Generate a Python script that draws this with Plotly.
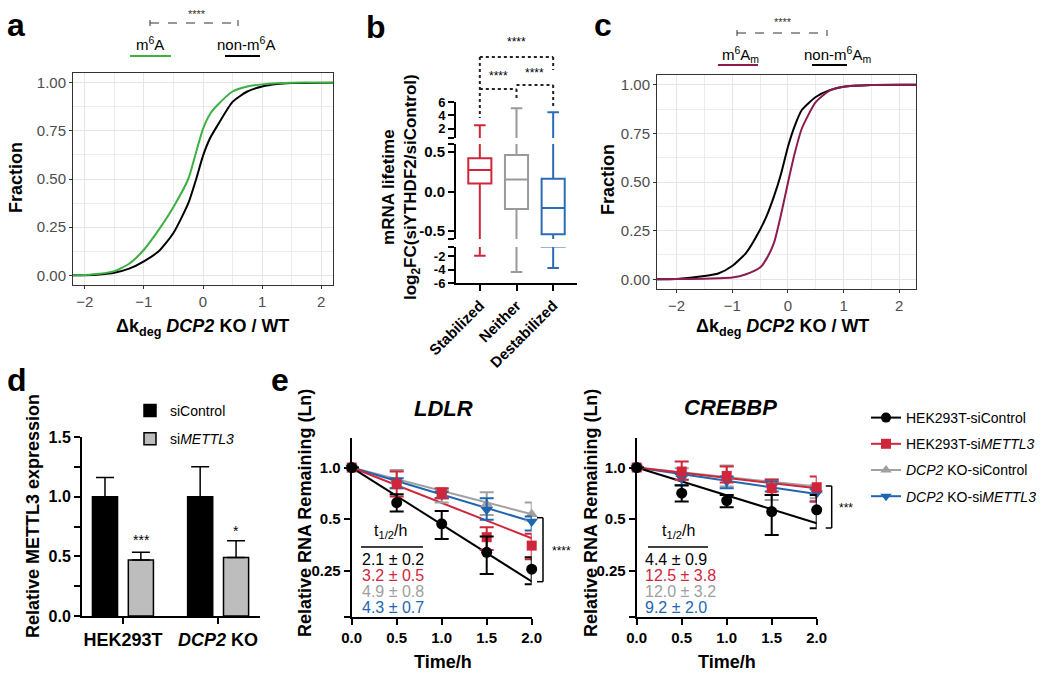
import plotly.graph_objects as go

W, H = 1050, 678
FONT = "Liberation Sans"

# ---------------- data ----------------
# Panel a : cumulative fraction vs delta k_deg
a_dk = [-2.2, -2.0, -1.75, -1.5, -1.25, -1.0, -0.75, -0.5, -0.25, -0.125, 0.0, 0.125, 0.25, 0.5, 0.75, 1.0, 1.25, 1.5, 2.2]
a_m6a_frac = [0, 0.002, 0.008, 0.022, 0.06, 0.133, 0.236, 0.355, 0.50, 0.63, 0.76, 0.84, 0.885, 0.954, 0.98, 0.991, 0.997, 1.0, 1.0]
a_non_frac = [0, 0.001, 0.005, 0.014, 0.035, 0.073, 0.125, 0.22, 0.373, 0.49, 0.62, 0.715, 0.78, 0.90, 0.954, 0.98, 0.993, 0.998, 1.0]

# Panel c
c_dk = [-2.35, -2.0, -1.5, -1.25, -1.0, -0.75, -0.5, -0.375, -0.25, -0.125, 0.0, 0.125, 0.25, 0.5, 0.75, 1.0, 1.5, 2.3]
c_m6am_frac = [0, 0.001, 0.003, 0.005, 0.009, 0.026, 0.06, 0.11, 0.187, 0.33, 0.495, 0.65, 0.775, 0.91, 0.97, 0.99, 0.999, 1.0]
c_non_frac = [0, 0.002, 0.017, 0.03, 0.068, 0.136, 0.255, 0.33, 0.426, 0.54, 0.68, 0.79, 0.87, 0.937, 0.972, 0.99, 0.999, 1.0]

# Panel b : box statistics
b_cats = ["Stabilized", "Neither", "Destabilized"]
b_q1 = [0.10, -0.22, -0.54]
b_median = [0.27, 0.15, -0.21]
b_q3 = [0.42, 0.46, 0.16]
b_low = [-1.9, -4.35, -3.75]
b_high = [2.5, 5.05, 4.45]
b_colors = ["#d0263b", "#9a9a9a", "#2b6cb5"]

# Panel d : relative METTL3 expression
d_groups = ["HEK293T", "DCP2 KO"]
d_group_labels = ["HEK293T", "<i>DCP2</i> KO"]
d_sicontrol = [1.0, 1.0]
d_sicontrol_err = [0.16, 0.25]
d_simettl3 = [0.47, 0.49]
d_simettl3_err = [0.065, 0.14]

# Panel e : RNA decay
e_time = [0, 0.5, 1.0, 1.5, 2.0]
e_fit_time = [0, 2.0]
e_names = ["HEK293T-siControl", "HEK293T-si<i>METTL3</i>",
           "<i>DCP2</i> KO-siControl", "<i>DCP2</i> KO-si<i>METTL3</i>"]
e_colors = ["#000000", "#d0263b", "#a0a0a0", "#1f66b0"]
e_symbols = ["circle", "square", "triangle-up", "triangle-down"]

ldlr_mean = [
    [1, 0.625, 0.470, 0.321, 0.256],
    [1, 0.803, 0.715, 0.393, 0.351],
    [1, 0.836, 0.693, 0.611, 0.535],
    [1, 0.810, 0.693, 0.567, 0.485],
]
ldlr_upper = [
    [1, 0.699, 0.559, 0.396, 0.300],
    [1, 0.948, 0.758, 0.449, 0.411],
    [1, 0.969, 0.748, 0.718, 0.625],
    [1, 0.867, 0.725, 0.663, 0.518],
]
ldlr_lower = [
    [1, 0.554, 0.384, 0.240, 0.209],
    [1, 0.678, 0.663, 0.331, 0.292],
    [1, 0.758, 0.625, 0.530, 0.491],
    [1, 0.758, 0.663, 0.496, 0.430],
]
ldlr_fit_end = [0.217, 0.387, 0.535, 0.485]
ldlr_halflife = ["2.1 ± 0.2", "3.2 ± 0.5", "4.9 ± 0.8", "4.3 ± 0.7"]

crebbp_mean = [
    [1, 0.709, 0.642, 0.554, 0.567],
    [1, 0.948, 0.894, 0.758, 0.768],
    [1, 0.918, 0.886, 0.810, 0.734],
    [1, 0.867, 0.829, 0.775, 0.709],
]
crebbp_upper = [
    [1, 0.785, 0.693, 0.693, 0.693],
    [1, 1.084, 1.013, 0.848, 0.886],
    [1, 0.991, 1.027, 0.855, 0.790],
    [1, 0.918, 0.886, 0.829, 0.748],
]
crebbp_lower = [
    [1, 0.634, 0.587, 0.405, 0.443],
    [1, 0.848, 0.818, 0.693, 0.634],
    [1, 0.848, 0.775, 0.648, 0.663],
    [1, 0.792, 0.758, 0.725, 0.634],
]
crebbp_fit_end = [0.474, 0.758, 0.775, 0.702]
crebbp_halflife = ["4.4 ± 0.9", "12.5 ± 3.8", "12.0 ± 3.2", "9.2 ± 2.0"]


# ---------------- helpers ----------------
def px(x):
    return x / W


def py(y):
    return 1 - y / H


annotations = []
shapes = []


def T(text, x, y, size, color="black", xanchor="center", yanchor="middle", angle=0, bold=False,
      xref="paper"):
    if bold:
        text = f"<b>{text}</b>"
    annotations.append(dict(text=text, x=(px(x) if xref == "paper" else x), y=py(y), xref=xref, yref="paper",
                            showarrow=False, font=dict(family=FONT, size=size, color=color),
                            xanchor=xanchor, yanchor=yanchor, textangle=angle))


def L(x0, y0, x1, y1, color="black", width=1.0, dash="solid", xref="paper"):
    shapes.append(dict(type="line", xref=xref, yref="paper",
                       x0=(px(x0) if xref == "paper" else x0), x1=(px(x1) if xref == "paper" else x1),
                       y0=py(y0), y1=py(y1), line=dict(color=color, width=width, dash=dash)))


fig = go.Figure()

# ---------------- panel a & c (ggplot style) ----------------
curve = dict(mode="lines", showlegend=False, hoverinfo="skip")
fig.add_trace(go.Scatter(x=a_dk, y=a_non_frac, line=dict(color="black", width=2, shape="spline", smoothing=0.6),
                         xaxis="x", yaxis="y", **curve))
fig.add_trace(go.Scatter(x=a_dk, y=a_m6a_frac, line=dict(color="#3cb043", width=2, shape="spline", smoothing=0.6),
                         xaxis="x", yaxis="y", **curve))
fig.add_trace(go.Scatter(x=c_dk, y=c_non_frac, line=dict(color="black", width=2, shape="spline", smoothing=0.6),
                         xaxis="x3", yaxis="y5", **curve))
fig.add_trace(go.Scatter(x=c_dk, y=c_m6am_frac, line=dict(color="#8e1b50", width=2, shape="spline", smoothing=0.6),
                         xaxis="x3", yaxis="y5", **curve))

# ---------------- panel b (broken axis box plot) ----------------
for yax in ["y2", "y3", "y4"]:
    for i, cat in enumerate(b_cats):
        fig.add_trace(go.Box(x=[cat], q1=[b_q1[i]], median=[b_median[i]], q3=[b_q3[i]],
                             lowerfence=[b_low[i]], upperfence=[b_high[i]],
                             width=0.63, whiskerwidth=0.5, fillcolor="white",
                             line=dict(color=b_colors[i], width=2), boxpoints=False,
                             xaxis="x2", yaxis=yax, showlegend=False, hoverinfo="skip"))

# ---------------- panel d (bars) ----------------
fig.add_trace(go.Bar(x=d_groups, y=d_sicontrol, name="siControl", marker=dict(color="black", line=dict(color="black", width=1.5)),
                     error_y=dict(type="data", array=d_sicontrol_err, arrayminus=[0, 0], symmetric=False,
                                  color="black", thickness=1.5, width=9),
                     xaxis="x4", yaxis="y6", legend="legend2", legendgroup="ctl", hoverinfo="skip"))
fig.add_trace(go.Bar(x=d_groups, y=d_simettl3, name="si<i>METTL3</i>", marker=dict(color="#bdbdbd", line=dict(color="black", width=1.5)),
                     error_y=dict(type="data", array=d_simettl3_err, arrayminus=[0, 0], symmetric=False,
                                  color="black", thickness=1.5, width=9),
                     xaxis="x4", yaxis="y6", legend="legend2", legendgroup="kd", hoverinfo="skip"))

# ---------------- panel e (decay curves) ----------------
for xa, ya, mean, up, lo, fit in [("x5", "y7", ldlr_mean, ldlr_upper, ldlr_lower, ldlr_fit_end),
                                  ("x6", "y8", crebbp_mean, crebbp_upper, crebbp_lower, crebbp_fit_end)]:
    order = [2, 3, 1, 0]
    for s in order:
        fig.add_trace(go.Scatter(x=e_fit_time, y=[mean[s][0], fit[s]], mode="lines",
                                 line=dict(color=e_colors[s], width=2), xaxis=xa, yaxis=ya,
                                 showlegend=False, hoverinfo="skip", cliponaxis=False))
    for s in order:
        plus = [u - m for u, m in zip(up[s], mean[s])]
        minus = [m - l for m, l in zip(mean[s], lo[s])]
        fig.add_trace(go.Scatter(x=e_time, y=mean[s], mode="markers",
                                 marker=dict(symbol=e_symbols[s], color=e_colors[s], size=11 if s != 1 else 10),
                                 error_y=dict(type="data", array=plus, arrayminus=minus, symmetric=False,
                                              color=e_colors[s], thickness=2, width=7),
                                 xaxis=xa, yaxis=ya, showlegend=False, hoverinfo="skip", cliponaxis=False))

# legend entries for panel e
for s in range(4):
    fig.add_trace(go.Scatter(x=[None], y=[None], mode="lines+markers", name=e_names[s],
                             marker=dict(symbol=e_symbols[s], color=e_colors[s], size=10),
                             line=dict(color=e_colors[s], width=2), legendgroup=f"e{s}",
                             xaxis="x5", yaxis="y7", showlegend=True))

# ---------------- axes ----------------
gg_common = dict(showline=True, mirror=True, linecolor="#333333", linewidth=1, zeroline=False,
                 showgrid=True, gridcolor="#e5e5e5", gridwidth=1.3,
                 ticks="outside", ticklen=3, tickcolor="#333333", tickwidth=1, automargin=False,
                 tickfont=dict(family=FONT, size=15, color="#4d4d4d"))


def ggx(domain, anchor, rng):
    d = dict(gg_common)
    d.update(domain=domain, anchor=anchor, range=rng, tickmode="linear", tick0=0, dtick=1,
             minor=dict(dtick=0.5, tick0=0, showgrid=True, gridcolor="#ececec", gridwidth=1, ticks=""))
    return d


def ggy(domain, anchor, rng):
    d = dict(gg_common)
    d.update(domain=domain, anchor=anchor, range=rng, tickmode="linear", tick0=0, dtick=0.25, tickformat=".2f",
             minor=dict(dtick=0.125, tick0=0, showgrid=True, gridcolor="#ececec", gridwidth=1, ticks=""))
    return d


prism = dict(showline=True, linecolor="black", linewidth=2, zeroline=False, showgrid=False, automargin=False,
             ticks="outside", ticklen=6, tickwidth=2, tickcolor="black")


def bold_font(size):
    return dict(family=FONT, size=size, color="black", weight="bold")


def minor_ticks(vals):
    return dict(tickmode="array", tickvals=vals, ticks="outside", ticklen=6, tickwidth=2, tickcolor="black",
                showgrid=False)


layout = dict(
    width=W, height=H, margin=dict(l=0, r=0, t=0, b=0, autoexpand=False),
    paper_bgcolor="white", plot_bgcolor="white",
    font=dict(family=FONT, color="black"),
    boxmode="overlay", barmode="group", bargap=0.246, bargroupgap=0.30,
    xaxis=ggx([px(73), px(333)], "y", [-2.2, 2.2]),
    yaxis=ggy([py(285), py(73)], "x", [-0.05, 1.05]),
    xaxis3=ggx([px(657), px(916)], "y5", [-2.35, 2.3]),
    yaxis5=ggy([py(289), py(75)], "x3", [-0.05, 1.05]),
    xaxis2=dict(prism, domain=[px(456), px(577)], anchor="y2", type="category", categoryorder="array",
                categoryarray=b_cats, range=[-0.65, 2.65], tickangle=-45, tickfont=bold_font(15)),
    yaxis2=dict(prism, domain=[py(283), py(247)], anchor="x2", range=[-6, -0.6],
                tickmode="array", tickvals=[-6, -4, -2], ticktext=["-6", "-4", "-2"], tickfont=bold_font(13),
                minor=minor_ticks([-0.6])),
    yaxis3=dict(prism, domain=[py(239), py(144)], anchor="x2", range=[-0.6, 0.6],
                tickmode="array", tickvals=[-0.5, 0, 0.5], ticktext=["-0.5", "0.0", "0.5"],
                tickfont=bold_font(15), minor=minor_ticks([-0.6, 0.6])),
    yaxis4=dict(prism, domain=[py(138), py(102)], anchor="x2", range=[0.6, 6],
                tickmode="array", tickvals=[2, 4, 6], ticktext=["2", "4", "6"], tickfont=bold_font(13),
                minor=minor_ticks([0.6])),
    xaxis4=dict(prism, domain=[px(82), px(260)], anchor="y6", type="category", categoryorder="array",
                categoryarray=d_groups, range=[-0.43, 1.44], tickmode="array", tickvals=d_groups,
                ticktext=d_group_labels, tickfont=bold_font(18)),
    yaxis6=dict(prism, domain=[py(616), py(437)], anchor="x4", range=[0, 1.5], tickmode="array",
                tickvals=[0, 0.5, 1.0, 1.5], ticktext=["0.0", "0.5", "1.0", "1.5"], tickfont=bold_font(16),
                minor=minor_ticks([0.25, 0.75, 1.25])),
    xaxis5=dict(prism, domain=[px(351.7), px(531.7)], anchor="y7", range=[0, 2], tickmode="array",
                tickvals=[0, 0.5, 1.0, 1.5, 2.0], ticktext=["0.0", "0.5", "1.0", "1.5", "2.0"], tickfont=bold_font(15)),
    yaxis7=dict(prism, domain=[py(616.7), py(438.3)], anchor="x5", type="log", range=[-0.8687, 0.1703],
                tickmode="array", tickvals=[0.25, 0.5, 1.0], ticktext=["0.25", "0.5", "1.0"],
                tickfont=bold_font(15), minor=minor_ticks([0.1353])),
    xaxis6=dict(prism, domain=[px(636.7), px(816.7)], anchor="y8", range=[0, 2], tickmode="array",
                tickvals=[0, 0.5, 1.0, 1.5, 2.0], ticktext=["0.0", "0.5", "1.0", "1.5", "2.0"], tickfont=bold_font(15)),
    yaxis8=dict(prism, domain=[py(616.7), py(438.3)], anchor="x6", type="log", range=[-0.8687, 0.1703],
                tickmode="array", tickvals=[0.25, 0.5, 1.0], ticktext=["0.25", "0.5", "1.0"],
                tickfont=bold_font(15), minor=minor_ticks([0.1353])),
    legend=dict(x=px(866), y=py(402), xanchor="left", yanchor="top", font=dict(family=FONT, size=14),
                tracegroupgap=5, itemwidth=30, bgcolor="rgba(0,0,0,0)"),
    legend2=dict(x=px(130), y=py(395), xanchor="left", yanchor="top", font=dict(family=FONT, size=14),
                 tracegroupgap=7, itemwidth=30, bgcolor="rgba(0,0,0,0)"),
)

# ---------------- text & decorations ----------------
# panel letters
for letter, x, y in [("a", 16, 25), ("b", 376, 27), ("c", 603, 25), ("d", 17, 380), ("e", 280, 380)]:
    T(letter, x, y, 32, bold=True)

# panel a
T("****", 197, 14, 11, color="#333333")
L(150, 23, 238, 23, color="#333333", width=1, dash="dash")
L(150, 20, 150, 26, color="#333333", width=1)
L(238, 20, 238, 26, color="#333333", width=1)
T("m<sup>6</sup>A", 150, 43, 15)
L(130, 56, 171, 56, color="#3cb043", width=2)
T("non-m<sup>6</sup>A", 246, 43, 15)
L(225, 56, 260, 56, color="black", width=2)
T("Fraction", 16, 178, 18, bold=True, angle=-90)
T("Δk<sub>deg</sub> <i>DCP2</i> KO / WT", 202, 328, 18, bold=True)

# panel c
T("****", 783, 22, 11, color="#333333")
L(737, 33, 827, 33, color="#333333", width=1, dash="dash")
L(737, 30, 737, 36, color="#333333", width=1)
L(827, 30, 827, 36, color="#333333", width=1)
T("m<sup>6</sup>A<sub>m</sub>", 740, 54, 15)
L(718, 65, 758, 65, color="#8e1b50", width=2)
T("non-m<sup>6</sup>A<sub>m</sub>", 837, 54, 15)
L(812, 65, 847, 65, color="black", width=2)
T("Fraction", 608, 180, 18, bold=True, angle=-90)
T("Δk<sub>deg</sub> <i>DCP2</i> KO / WT", 782, 328, 18, bold=True)

# panel b
T("mRNA lifetime<br>log<sub>2</sub>FC(siYTHDF2/siControl)", 401, 187, 17, bold=True, angle=-90)
dot = dict(color="#222222", width=2, dash="dot", xref="x2")
L(0, 57, 2, 57, **dot)
L(0, 57, 0, 118, **dot)
L(2, 57, 2, 70, **dot)
L(0, 89, 1, 89, **dot)
L(1, 89, 1, 100, **dot)
L(1, 85, 2, 85, **dot)
L(2, 85, 2, 107, **dot)
T("****", 1, 42, 12, xref="x2")
T("****", 0.5, 76, 12, xref="x2")
T("****", 1.5, 73, 12, xref="x2")

# panel d
T("Relative METTL3 expression", 33, 516, 18, bold=True, angle=-90)
T("***", 141, 540, 14)
T("*", 236, 531, 14)

# panel e
T("<i>LDLR</i>", 443, 408, 22, bold=True)
T("<i>CREBBP</i>", 730, 407, 22, bold=True)
T("Time/h", 443, 662, 18, bold=True)
T("Time/h", 727, 662, 18, bold=True)
T("Relative RNA Remaining (Ln)", 305, 513, 18, bold=True, angle=-90)
T("Relative RNA Remaining (Ln)", 591, 513, 18, bold=True, angle=-90)

for xt, xl0, xl1, xv, vals in [(390, 361, 423, 360, ldlr_halflife), (678, 648, 708, 643, crebbp_halflife)]:
    T("t<sub>1/2</sub>/h", xt, 531, 16)
    L(xl0, 547, xl1, 547, color="black", width=1.5)
    for k, v in enumerate(vals):
        T(v, xv, 559 + 16 * k, 16, color=e_colors[k], xanchor="left")

# significance brackets
for xb, y0, y1, txt, xtxt in [(543, 517.7, 581.7, "****", 561), (831.7, 486, 528, "***", 846)]:
    L(xb, y0, xb, y1, width=1.5)
    L(xb - 6, y0, xb, y0, width=1.5)
    L(xb - 6, y1, xb, y1, width=1.5)
    T(txt, xtxt, (y0 + y1) / 2 + 1, 12, xanchor="center")

layout["annotations"] = annotations
layout["shapes"] = shapes
fig.update_layout(**layout)
fig.write_html("out.html", config={"displayModeBar": False},
               post_script="document.body.style.margin='0px';document.body.style.overflow='hidden';")
